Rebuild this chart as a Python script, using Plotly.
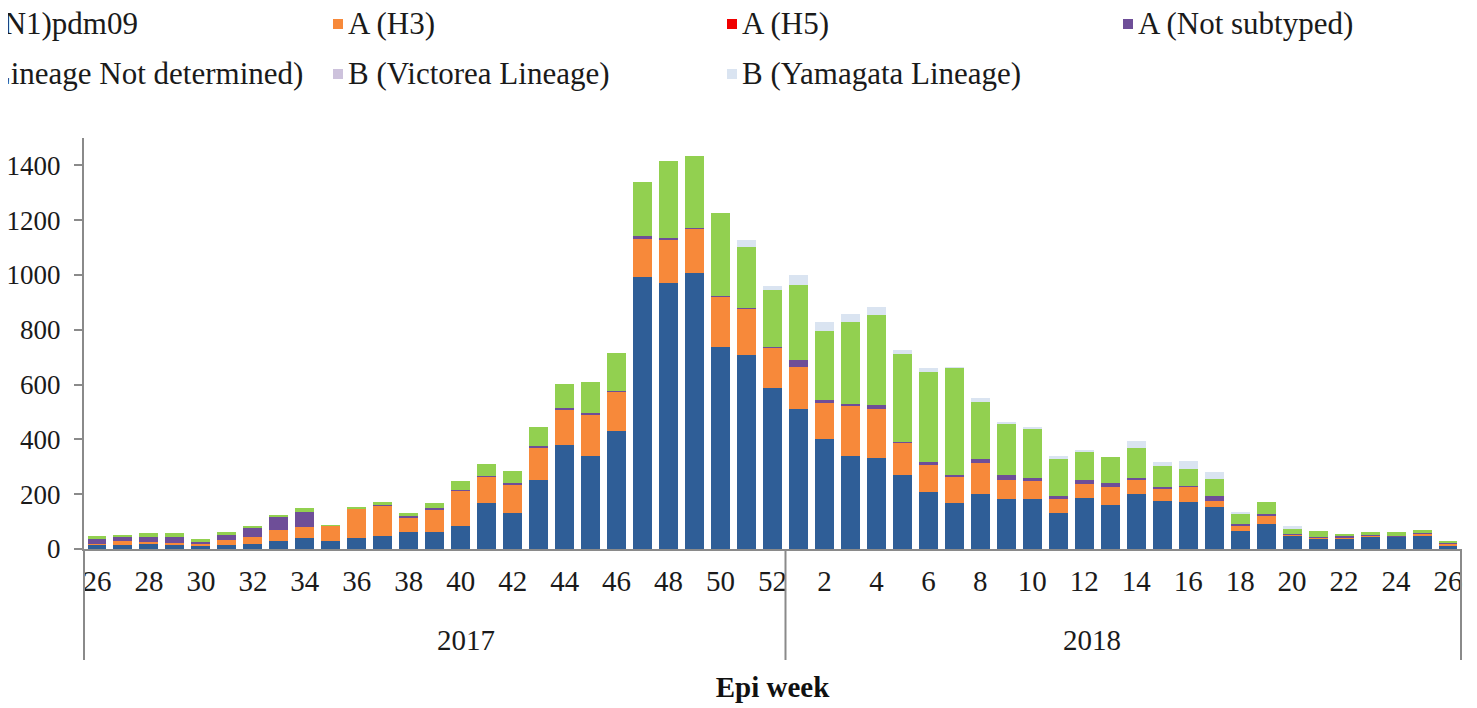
import plotly.graph_objects as go

# ---------------- data ----------------
years_2017 = list(range(26, 53))   # weeks 26..52 of 2017
years_2018 = list(range(1, 27))    # weeks 1..26 of 2018

categories = [f"2017-W{w:02d}" for w in years_2017] + [f"2018-W{w:02d}" for w in years_2018]
week_numbers = years_2017 + years_2018

a_h1n1 = [17, 14, 17, 15, 11, 15, 17, 28, 40, 28, 40, 47, 61, 61, 85, 168, 130, 252, 379, 340, 431,
          994, 970, 1006, 739, 708, 587,
          512, 402, 338, 332, 269, 207, 168, 200, 181, 181, 130, 186, 162, 200, 174, 171, 153, 64, 91,
          46, 38, 38, 46, 44, 50, 13]
a_h3 = [3, 14, 10, 6, 6, 18, 27, 40, 41, 57, 109, 110, 55, 83, 128, 97, 107, 119, 129, 152, 142,
        137, 159, 162, 181, 168, 147,
        153, 130, 185, 180, 118, 98, 98, 115, 72, 66, 56, 53, 66, 53, 47, 57, 21, 22, 32,
        8, 5, 5, 4, 3, 6, 6]
a_h5 = [0] * 53
a_not_subtyped = [17, 14, 18, 24, 10, 18, 33, 50, 55, 0, 0, 2, 4, 4, 2, 2, 4, 4, 5, 3, 4,
                  11, 5, 5, 5, 5, 5,
                  24, 10, 6, 12, 3, 11, 5, 12, 18, 11, 7, 12, 12, 5, 5, 3, 18, 4, 4,
                  2, 2, 5, 1, 1, 4, 5]
b_not_determined = [10, 10, 12, 12, 10, 12, 4, 3, 12, 2, 2, 12, 13, 21, 33, 45, 44, 69, 89, 113, 137,
                    196, 282, 262, 300, 222, 205,
                    275, 255, 299, 331, 322, 331, 391, 210, 187, 182, 134, 105, 97, 109, 78, 61, 64, 36, 45,
                    18, 22, 8, 12, 15, 10, 7]
b_victoria = [0] * 53
b_yamagata = [0, 0, 0, 0, 0, 0, 0, 0, 0, 0, 0, 0, 0, 0, 0, 0, 0, 0, 0, 0, 0,
              0, 0, 0, 0, 24, 17,
              36, 30, 29, 27, 16, 13, 2, 15, 2, 2, 13, 2, 0, 29, 13, 30, 24, 8, 0,
              10, 0, 0, 0, 0, 0, 0]

series_names = ["A (H1N1)pdm09", "A (H3)", "A (H5)", "A (Not subtyped)",
                "B (Lineage Not determined)", "B (Victorea Lineage)", "B (Yamagata Lineage)"]
series_values = [a_h1n1, a_h3, a_h5, a_not_subtyped, b_not_determined, b_victoria, b_yamagata]
series_colors = ["#2F5E97", "#F7893A", "#F00000", "#6E4E98", "#92D050", "#CDC2DC", "#DAE4F1"]

year_labels = ["2017", "2018"]
y_ticks = [0, 200, 400, 600, 800, 1000, 1200, 1400]

# ---------------- layout geometry ----------------
OFF = 8                      # page body margin
W, H = 1477 - OFF, 708 - OFF
PL, PR, PT, PB = 84, 1461, 138, 549   # plot area in page pixels
ML, MR, MT, MB = PL - OFF, W - (PR - OFF), PT - OFF, H - (PB - OFF)
PW = W - ML - MR
PH = H - MT - MB
FONT = "Liberation Serif, Times New Roman, serif"


def px_x(px):
    return (px - PL) / PW


def px_y(py):
    return (PB - py) / PH


fig = go.Figure()
for name, vals, col in zip(series_names, series_values, series_colors):
    fig.add_trace(go.Bar(x=categories, y=vals, name=name, marker=dict(color=col, line=dict(width=0)),
                         showlegend=False))

tickvals = [c for c, w in zip(categories, week_numbers) if w % 2 == 0]
ticktext = [str(w) for w in week_numbers if w % 2 == 0]

axis_grey = "#8A8A8A"
fig.update_layout(
    width=W, height=H,
    margin=dict(l=ML, r=MR, t=MT, b=MB, autoexpand=False),
    barmode="stack", bargap=0.27,
    plot_bgcolor="white", paper_bgcolor="white",
    font=dict(family=FONT, color="#1a1a1a"),
    xaxis=dict(type="category", categoryorder="array", categoryarray=categories,
               tickmode="array", tickvals=tickvals, ticktext=ticktext,
               showline=True, linecolor=axis_grey, linewidth=2,
               ticks="outside", ticklen=5, tickcolor="rgba(0,0,0,0)",
               tickfont=dict(size=29, family=FONT, color="#1a1a1a"),
               showgrid=False, range=[-0.5, len(categories) - 0.5], automargin=False,
               title=dict(text="<b>Epi week</b>", font=dict(size=29, family=FONT, color="#111"),
                          standoff=81)),
    yaxis=dict(range=[0, 1500], tickvals=y_ticks, showline=True, linecolor=axis_grey, linewidth=2,
               ticks="outside", ticklen=8, tickcolor=axis_grey, tickwidth=2,
               tickfont=dict(size=27, family=FONT, color="#1a1a1a"),
               showgrid=False, zeroline=False, automargin=False, ticklabelstandoff=8),
)

# dividers for the two-level category axis
n17 = len(years_2017)
n_all = len(categories)
for xp in [0, n17 / n_all, 1]:
    fig.add_shape(type="line", xref="paper", yref="paper", x0=xp, x1=xp, y0=0, y1=px_y(660),
                  line=dict(color=axis_grey, width=2))

# year labels
fig.add_annotation(text=year_labels[0], xref="paper", yref="paper", x=(n17 / 2) / n_all, y=px_y(640),
                   showarrow=False, font=dict(size=29, family=FONT, color="#1a1a1a"), yanchor="middle")
fig.add_annotation(text=year_labels[1], xref="paper", yref="paper",
                   x=(n17 + (n_all - n17) / 2) / n_all, y=px_y(640),
                   showarrow=False, font=dict(size=29, family=FONT, color="#1a1a1a"), yanchor="middle")

# custom legend (the reference is cropped at the left)
col_px = [-61, 333, 727, 1123]
row_py = [24, 74]
first_col_text_end = [140, 305]   # the first column is cut by the left edge
layout_slots = [(0, 0), (0, 1), (0, 2), (0, 3), (1, 0), (1, 1), (1, 2)]
for (r, c), name, col in zip(layout_slots, series_names, series_colors):
    x0 = col_px[c]
    yc = row_py[r]
    fig.add_shape(type="rect", xref="paper", yref="paper",
                  x0=px_x(x0), x1=px_x(x0 + 10), y0=px_y(yc + 5), y1=px_y(yc - 5),
                  fillcolor=col, line=dict(width=0))
    if c == 0:
        tx, anchor = px_x(first_col_text_end[r]), "right"
    else:
        tx, anchor = px_x(x0 + 13), "left"
    fig.add_annotation(text=name, xref="paper", yref="paper", x=tx, y=px_y(yc),
                       xanchor=anchor, yanchor="middle", showarrow=False,
                       font=dict(size=31, family=FONT, color="#1a1a1a"))

fig.write_html("out.html")
